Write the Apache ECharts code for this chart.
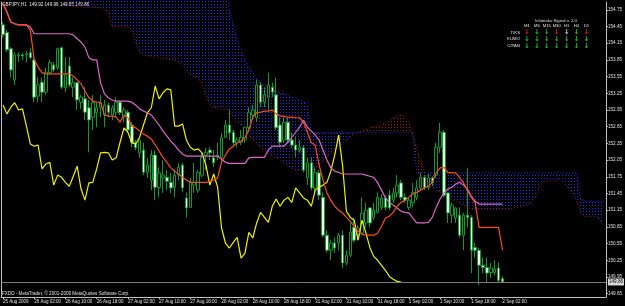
<!DOCTYPE html>
<html><head><meta charset="utf-8">
<script src="https://cdn.jsdelivr.net/npm/echarts@6/dist/echarts.min.js"></script>
<style>html,body{margin:0;padding:0;background:#000;}#c{width:625px;height:306px;}</style>
</head><body><div id="c"></div>
<script>
const symbolTitle = 'GBPJPY,H1  149.92 149.96 149.85 149.86';
const footerText = 'FXDD - MetaTrader, \u00A9 2001-2009 MetaQuotes Software Corp.';
const xTickLabels = ['25 Aug 2009','26 Aug 02:00','26 Aug 10:00','26 Aug 18:00','27 Aug 02:00','27 Aug 10:00','27 Aug 18:00','28 Aug 02:00','28 Aug 10:00','28 Aug 18:00','31 Aug 02:00','31 Aug 10:00','31 Aug 18:00','1 Sep 02:00','1 Sep 10:00','1 Sep 18:00','2 Sep 02:00'];
const labelEvery = 8;
const futureBars = 26;
const yTicks = [149.65,149.95,150.25,150.55,150.85,151.15,151.45,151.75,152.05,152.35,152.65,152.95,153.25,153.55,153.85,154.15,154.45,154.75];
const yMin = 149.59, yMax = 154.89;
const bidPrice = 149.86;

// [open, close, low, high]
const ohlc = [
[154.48,154.30,154.25,154.53],[154.34,154.03,153.99,154.39],[154.05,153.67,153.53,154.08],[153.49,153.94,153.40,153.98],
[153.92,153.94,153.81,153.99],[153.94,153.92,153.85,153.98],[153.94,153.96,153.81,154.01],[153.98,153.89,153.87,154.07],
[153.85,153.18,153.09,153.98],[153.20,153.40,153.09,153.54],[153.45,153.27,153.09,153.53],[153.27,153.63,153.22,153.71],
[153.62,153.80,153.58,153.85],[153.76,153.67,153.63,153.81],[153.71,154.05,153.67,154.07],[154.07,153.36,153.33,154.08],
[153.35,153.58,153.27,153.90],[153.74,153.40,153.36,153.90],[153.36,153.44,153.18,153.54],[153.44,153.13,152.95,153.45],
[153.09,153.18,152.97,153.22],[153.15,152.91,152.77,153.36],[152.99,152.77,152.19,153.13],[152.82,153.08,152.59,153.22],
[152.90,152.99,152.64,153.08],[153.00,153.08,152.82,153.22],[152.86,153.04,152.64,153.13],[153.04,152.91,152.82,153.08],
[152.86,152.99,152.77,153.04],[152.91,153.09,152.82,153.18],[153.09,152.90,152.86,153.13],[152.82,152.95,152.73,153.00],
[152.91,152.59,152.54,152.95],[152.68,152.36,152.28,152.73],[152.37,152.27,152.23,152.41],[152.18,152.41,152.09,152.46],
[152.23,151.83,151.78,152.36],[151.83,151.96,151.73,152.09],[151.69,152.14,151.51,152.23],[152.14,151.56,151.33,152.23],
[151.56,151.82,151.38,151.92],[151.73,151.78,151.46,152.05],[151.74,151.67,151.51,151.87],[151.65,151.55,151.46,151.82],
[151.56,151.78,151.38,151.87],[151.78,151.92,151.69,152.00],[151.96,151.55,151.47,152.00],[151.37,151.19,151.02,151.47],
[151.20,151.65,151.19,151.73],[151.60,151.65,151.46,152.00],[151.51,151.83,151.46,151.87],[151.78,152.10,151.74,152.18],
[152.14,152.19,151.87,152.27],[152.23,152.18,152.05,152.28],[152.09,152.00,151.92,152.23],[152.10,152.14,152.05,152.36],
[152.10,152.45,152.00,152.54],[152.46,152.68,152.45,152.77],[152.68,152.54,152.41,152.95],[152.55,152.36,152.28,152.59],
[152.36,152.41,152.28,152.46],[152.37,152.46,152.32,152.59],[152.41,152.64,152.36,152.64],[152.64,152.91,152.55,153.00],
[152.86,152.95,152.77,153.04],[152.81,153.40,152.73,153.49],[153.40,153.09,153.00,153.45],[153.09,153.22,153.00,153.36],
[153.18,153.40,152.95,153.62],[153.36,153.27,153.18,153.44],[153.22,152.63,152.59,153.53],[152.68,152.37,152.28,152.82],
[152.41,152.73,152.36,152.82],[152.73,152.41,152.36,152.81],[152.41,152.32,152.27,152.54],[152.32,152.23,152.10,152.46],
[152.23,152.27,152.18,152.41],[152.27,151.87,151.83,152.32],[151.73,152.00,151.60,152.09],[152.00,151.55,151.51,152.10],
[151.55,151.83,151.47,151.92],[151.82,151.42,151.33,151.87],[151.38,150.70,150.66,151.47],[150.70,150.43,150.39,150.79],
[150.43,150.56,150.25,150.61],[150.56,150.47,150.38,150.66],[150.56,150.70,150.43,150.74],[150.70,150.20,150.11,150.79],
[150.20,150.34,150.16,150.43],[150.34,150.75,150.30,150.92],[150.84,150.61,150.57,151.02],[150.70,150.83,150.61,150.88],
[150.74,151.10,150.70,151.38],[150.92,151.15,150.84,151.28],[151.19,150.92,150.84,151.20],[151.02,151.15,150.97,151.28],
[151.11,151.38,151.09,151.47],[151.20,151.37,151.15,151.44],[151.37,151.20,151.15,151.42],[151.42,151.19,151.15,151.51],
[151.33,151.46,151.28,151.55],[151.46,151.60,151.38,151.78],[151.64,151.38,151.33,151.69],[151.38,151.33,151.28,151.46],
[151.20,151.33,151.15,151.38],[151.28,151.47,151.20,151.64],[151.38,151.55,151.33,151.69],[151.55,151.74,151.51,151.82],
[151.74,151.56,151.51,151.78],[151.56,151.73,151.51,151.80],[151.73,151.64,151.58,151.76],[151.78,152.28,151.73,152.36],
[152.28,152.55,152.18,152.72],[152.55,151.42,151.38,152.59],[151.46,151.10,150.92,151.47],[151.06,151.24,150.92,151.28],
[151.01,151.19,150.92,151.20],[151.06,150.70,150.66,151.20],[150.70,151.06,150.43,151.10],[151.06,151.02,150.84,151.91],
[151.02,150.43,150.02,151.06],[150.48,150.43,150.30,150.56],[150.43,150.16,149.80,150.47],[150.16,150.12,150.02,150.30],
[150.12,150.02,149.84,150.30],[150.03,150.11,149.93,150.20],[150.03,150.09,149.98,150.25],[150.11,149.89,149.85,150.21],
[149.92,149.86,149.85,149.96]
];

const tenkan = [
154.86,154.71,154.53,154.50,154.48,154.48,154.48,154.39,153.85,153.72,
153.62,153.60,153.60,153.60,153.60,153.60,153.60,153.60,153.56,153.49,
153.42,153.29,153.17,153.11,153.09,153.08,152.86,152.84,152.84,152.82,
152.73,152.86,152.81,152.66,152.63,152.57,152.52,152.48,152.43,152.32,
152.21,152.10,152.01,151.91,151.85,151.80,151.74,151.69,151.65,151.65,
151.65,151.65,151.65,151.67,151.69,151.73,152.01,152.14,152.25,152.30,
152.36,152.39,152.45,152.59,152.82,152.90,152.91,152.93,152.93,152.95,
152.88,152.84,152.84,152.82,152.82,152.81,152.81,152.73,152.55,152.36,
152.32,151.96,151.69,151.46,151.33,151.22,151.15,151.10,151.02,150.95,
150.86,150.77,150.72,150.70,150.70,150.70,150.74,150.86,151.01,151.04,
151.11,151.22,151.29,151.33,151.38,151.44,151.47,151.51,151.55,151.58,
151.65,151.82,151.91,151.92,151.83,151.82,151.82,151.74,151.64,151.51,
151.38,151.28,150.84,150.84,150.84,150.84,150.84,150.84,150.43
];

const kijun = [
154.86,154.71,154.53,154.50,154.48,154.48,154.48,154.44,154.32,154.32,
154.32,154.32,154.32,154.32,154.32,154.32,154.32,154.32,154.30,154.23,
154.17,154.08,153.89,153.85,153.85,153.44,153.24,153.17,153.13,153.11,
153.11,153.11,153.11,153.09,153.04,152.97,152.93,152.90,152.86,152.77,
152.68,152.57,152.48,152.39,152.32,152.23,152.16,152.12,152.12,152.12,
152.12,152.12,152.12,152.12,152.12,152.12,152.07,152.01,151.99,151.99,
151.99,151.99,151.99,152.09,152.10,152.10,152.10,152.10,152.23,152.30,
152.30,152.30,152.30,152.37,152.46,152.55,152.64,152.77,152.64,152.57,
152.50,152.41,152.23,152.05,151.91,151.85,151.83,151.80,151.80,151.80,
151.80,151.80,151.80,151.78,151.76,151.74,151.64,151.51,151.37,151.29,
151.24,151.19,151.13,151.11,151.10,151.01,150.92,150.92,150.92,150.93,
151.02,151.20,151.35,151.46,151.53,151.56,151.62,151.65,151.60,151.53,
151.40,151.31,151.26,151.26,151.26,151.26,151.26,151.26,151.26
];

const chikou = [
153.04,152.88,153.00,153.08,152.95,152.97,152.66,152.34,152.30,152.32,
151.89,151.98,152.01,151.60,151.78,151.74,151.65,151.58,151.76,151.94,
151.53,151.33,151.64,151.65,151.89,152.18,152.19,152.18,152.05,152.09,
152.37,152.63,152.55,152.36,152.34,152.46,152.68,152.90,152.99,153.38,
153.15,153.26,153.33,153.31,152.66,152.66,152.70,152.41,152.28,152.23,
152.25,152.18,151.96,151.60,151.80,151.56,150.83,150.56,150.47,150.57,
150.66,150.29,150.38,150.75,150.65,150.92,151.11,151.02,150.93,151.22,
151.35,151.22,151.33,151.38,151.29,151.55,151.46,151.37,151.33,151.22,
151.51,151.56,151.60,151.65,151.85,152.14,152.50,151.96,151.13,151.02,
150.97,150.61,150.97,150.74,150.48,150.32,150.25,150.16,150.07,149.96,
149.91,149.87,149.86
];

const spanA = [
154.95,154.95,154.95,154.95,154.95,154.95,154.95,154.95,154.95,154.95,
154.95,154.95,154.95,154.95,154.95,154.95,154.95,154.84,154.82,154.81,
154.80,154.80,154.79,154.79,154.79,154.79,154.75,154.71,154.44,154.44,
154.44,154.44,154.44,154.40,154.16,153.98,153.94,153.92,153.92,153.90,
153.89,153.88,153.87,153.86,153.85,153.81,153.76,153.67,153.58,153.54,
153.54,153.40,153.22,153.04,153.00,152.99,152.97,152.96,152.95,152.81,
152.73,152.68,152.59,152.50,152.41,152.36,152.28,152.23,152.18,152.12,
152.09,152.05,152.00,151.94,151.91,151.87,151.87,151.87,151.87,151.87,
151.87,151.96,152.05,152.10,152.19,152.25,152.28,152.36,152.41,152.46,
152.52,152.55,152.57,152.59,152.63,152.64,152.66,152.68,152.72,152.75,
152.81,152.84,152.86,152.82,152.73,152.50,152.27,152.05,151.83,151.64,
151.55,151.51,151.47,151.42,151.38,151.35,151.31,151.28,151.24,151.20,
151.17,151.17,151.17,151.17,151.17,151.17,151.17,151.17,151.17,151.17,
151.17,151.19,151.20,151.22,151.24,151.26,151.33,151.47,151.64,151.67,
151.69,151.69,151.69,151.69,151.62,151.55,151.46,151.33,151.10,151.04,
151.04,151.04,151.04,150.97,150.86
];

const spanB = [
155.40,155.40,155.40,155.40,155.40,155.40,155.40,155.40,155.40,155.40,
155.40,155.40,155.40,155.40,155.40,155.40,155.40,155.40,155.40,155.40,
155.40,155.40,155.40,155.40,155.40,155.40,155.40,155.40,155.40,155.40,
155.40,155.40,155.40,155.40,155.40,155.40,155.40,155.40,155.40,155.40,
155.40,155.40,155.40,155.40,155.40,155.40,155.40,155.40,155.40,155.40,
155.40,155.40,155.40,155.40,155.40,155.40,155.40,155.40,154.75,154.48,
154.21,154.03,153.85,153.71,153.62,153.53,153.45,153.40,153.35,153.31,
153.29,153.26,153.24,153.22,153.18,153.17,153.13,153.09,153.06,152.55,
152.55,152.55,152.55,152.55,152.55,152.55,152.55,152.55,152.55,152.55,
152.55,152.55,152.55,152.55,152.55,152.55,152.55,152.55,152.55,152.55,
152.55,152.55,152.55,152.55,152.55,152.55,151.82,151.82,151.82,151.82,
151.82,151.82,151.82,151.82,151.82,151.82,151.82,151.82,151.82,151.82,
151.82,151.82,151.82,151.82,151.82,151.82,151.82,151.82,151.82,151.82,
151.82,151.82,151.82,151.82,151.82,151.82,151.82,151.82,151.82,151.82,
151.82,151.82,151.82,151.82,151.82,151.82,151.82,151.82,151.35,151.31,
151.31,151.31,151.31,151.31,151.31
];

const signalTitle = 'Ichimoku Signal v. 2.0';
const signalPeriods = ['M1','M5','M15','M30','H1','H4','D1'];
const signalRows = ['T/KS','KUMO','C/PAN'];
const signalColors = [
  ['#e01818','#18c818','#10b060','#e01818','#c8c8c8','#18c818','#e01818'],
  ['#18c818','#18c818','#18c818','#18c818','#18c818','#18c818','#18c818'],
  ['#18c818','#18c818','#18c818','#18c818','#18c818','#18c818','#18c818']
];

const FONT = '"Liberation Sans", Arial, sans-serif';
const nBars = ohlc.length + futureBars;
const cats = Array.from({length: nBars}, (_, i) => String(i));
const pad = (arr) => arr.concat(Array(nBars - arr.length).fill(null));

function dotPattern(color) {
  const c = document.createElement('canvas');
  c.width = 3; c.height = 3;
  const g = c.getContext('2d');
  g.fillStyle = color; g.fillRect(1, 1, 1, 1);
  return c;
}
const cloudLow = spanA.map((a, i) => Math.min(a, spanB[i]));
const blueDiff = spanA.map((a, i) => Math.max(spanB[i] - a, 0));
const redDiff = spanA.map((a, i) => Math.max(a - spanB[i], 0));

const tickShow = (idx) => idx % labelEvery === 0 && idx / labelEvery < xTickLabels.length;

const chart = echarts.init(document.getElementById('c'), null, {renderer: 'canvas'});

const graphics = [
  {type: 'text', left: 2, top: 2, style: {text: symbolTitle, fill: '#e8e8e8', font: '4.6px ' + FONT}},
  {type: 'text', left: 2, top: 291, style: {text: footerText, fill: '#e0e0e0', font: '4.6px ' + FONT}},
  {type: 'text', x: 556, y: 21, style: {text: signalTitle, fill: '#e0e0e0', font: '4.3px ' + FONT, textAlign: 'center', textVerticalAlign: 'middle'}}
];
const colX0 = 527, colStep = 9.9;
signalPeriods.forEach((p, j) => {
  graphics.push({type: 'text', x: colX0 + j * colStep, y: 26, style: {text: p, fill: '#e0e0e0', font: '4.2px ' + FONT, textAlign: 'center', textVerticalAlign: 'middle'}});
});
signalRows.forEach((r, k) => {
  const yy = 32.5 + k * 6.8;
  graphics.push({type: 'text', x: 520, y: yy, style: {text: r, fill: '#e0e0e0', font: '4.3px ' + FONT, textAlign: 'right', textVerticalAlign: 'middle'}});
  signalColors[k].forEach((col, j) => {
    graphics.push({type: 'text', x: colX0 + j * colStep, y: yy, style: {text: '\u2193', fill: col, font: 'bold 7px "DejaVu Sans"', textAlign: 'center', textVerticalAlign: 'middle'}});
  });
});

const option = {
  backgroundColor: '#000000',
  animation: false,
  grid: {left: 1, right: 18, top: 2, bottom: 9, containLabel: false},
  xAxis: {
    type: 'category', data: cats, boundaryGap: true,
    axisLine: {show: true, lineStyle: {color: '#c0c0c0', width: 1}},
    axisTick: {show: true, interval: tickShow, alignWithLabel: true, length: 2, lineStyle: {color: '#c0c0c0'}},
    axisLabel: {show: true, interval: tickShow, align: 'left', margin: 2, color: '#e0e0e0', fontSize: 4.5, fontFamily: FONT,
      formatter: (v, idx) => (idx % labelEvery === 0 && xTickLabels[idx / labelEvery]) || ''},
    splitLine: {show: false}
  },
  yAxis: [{
    type: 'value', position: 'right', min: yMin, max: yMax, scale: true,
    axisLine: {show: true, lineStyle: {color: '#c0c0c0', width: 1}},
    axisTick: {show: true, length: 2, customValues: yTicks, lineStyle: {color: '#c0c0c0'}},
    axisLabel: {show: true, customValues: yTicks, margin: 2, color: '#e0e0e0', fontSize: 4.6, fontFamily: FONT, formatter: (v) => v.toFixed(2)},
    splitLine: {show: false}
  }, {
    type: 'value', position: 'left', min: yMin, max: yMax,
    axisLine: {show: true, lineStyle: {color: '#c0c0c0', width: 1}},
    axisTick: {show: false}, axisLabel: {show: false}, splitLine: {show: false}
  }],
  series: [
    {type: 'line', stack: 'blue', data: cloudLow, symbol: 'none', lineStyle: {opacity: 0}, silent: true, z: 1},
    {type: 'line', stack: 'blue', data: blueDiff, symbol: 'none', lineStyle: {opacity: 0}, silent: true, z: 1,
      areaStyle: {color: {image: dotPattern('#2a2aff'), repeat: 'repeat'}, opacity: 1}},
    {type: 'line', stack: 'red', data: cloudLow, symbol: 'none', lineStyle: {opacity: 0}, silent: true, z: 1},
    {type: 'line', stack: 'red', data: redDiff, symbol: 'none', lineStyle: {opacity: 0}, silent: true, z: 1,
      areaStyle: {color: {image: dotPattern('#b01818'), repeat: 'repeat'}, opacity: 1}},
    {type: 'line', data: spanA, symbol: 'none', z: 2, lineStyle: {color: '#b01818', width: 1, type: [1, 2]}},
    {type: 'line', data: spanB, symbol: 'none', z: 2, lineStyle: {color: '#2a2aff', width: 1, type: [1, 2]}},
    {type: 'candlestick', data: ohlc, barWidth: 3, z: 3,
      itemStyle: {color: '#000000', color0: '#eaffea', borderColor: '#0f9a2c', borderColor0: '#0f9a2c', borderWidth: 1},
      markLine: {silent: true, symbol: 'none', animation: false,
        lineStyle: {color: '#7a7a7a', type: 'solid', width: 1},
        label: {show: true, position: 'end', distance: 2, formatter: bidPrice.toFixed(2), color: '#000', backgroundColor: '#d8d8d8', fontSize: 4.6, fontFamily: FONT, padding: [1, 1]},
        data: [{yAxis: bidPrice}]}},
    {type: 'line', data: pad(chikou), symbol: 'none', z: 4, lineStyle: {color: '#f0f000', width: 1.2}},
    {type: 'line', data: pad(kijun), symbol: 'none', z: 5, lineStyle: {color: '#dd66cc', width: 1.2}},
    {type: 'line', data: pad(tenkan), symbol: 'none', z: 6, lineStyle: {color: '#ff4a1a', width: 1.2}}
  ],
  graphic: graphics
};
chart.setOption(option);
</script></body></html>
